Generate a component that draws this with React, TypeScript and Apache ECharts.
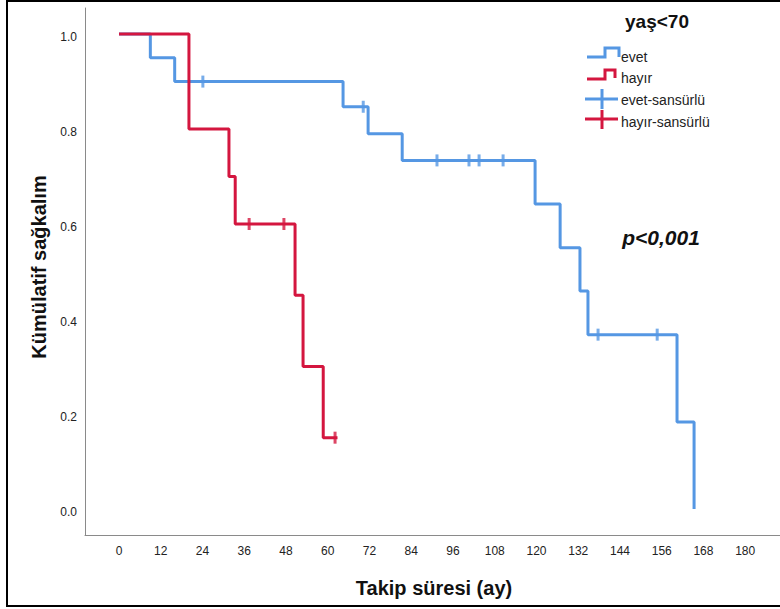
import React, { useEffect, useRef } from "react";
import * as echarts from "echarts";

// Kaplan-Meier step points [months, survival]
const evetSteps: [number, number][] = [
  [0, 1.0], [9, 0.95], [16, 0.9], [64.4, 0.847], [71.6, 0.79], [81.4, 0.734],
  [119.6, 0.642], [126.8, 0.55], [132.5, 0.459], [134.8, 0.367], [160.4, 0.183], [165.3, 0.0],
];
const hayirSteps: [number, number][] = [
  [0, 1.0], [20.1, 0.8], [31.6, 0.7], [33.4, 0.6], [50.6, 0.45], [52.9, 0.3], [58.7, 0.15], [62.8, 0.15],
];
const evetCensored: [number, number][] = [
  [24.1, 0.9], [70.2, 0.847], [91.4, 0.734], [100.6, 0.734], [103.5, 0.734], [110.4, 0.734],
  [137.7, 0.367], [154.7, 0.367],
];
const hayirCensored: [number, number][] = [
  [37.4, 0.6], [47.4, 0.6], [62.1, 0.15],
];
const xTicks = [0, 12, 24, 36, 48, 60, 72, 84, 96, 108, 120, 132, 144, 156, 168, 180];
const yTicks = [0, 0.2, 0.4, 0.6, 0.8, 1.0];
const legendTitle = "yaş<70";
const legendNames = ["evet", "hayır", "evet-sansürlü", "hayır-sansürlü"];
const pText = "p<0,001";
const xTitle = "Takip süresi (ay)";
const yTitle = "Kümülatif sağkalım";

const BLUE = "#5597e3";
const RED = "#d4163f";

export default function App() {
  const ref = useRef<HTMLDivElement>(null);
  useEffect(() => {
    if (!ref.current) return;
    const chart = echarts.init(ref.current, undefined, { renderer: "svg" });
    const font = "Liberation Sans, Arial, sans-serif";
    chart.setOption({
      animation: false,
      backgroundColor: "#ffffff",
      grid: { left: 85, top: 8, right: 0, bottom: 74, containLabel: false },
      xAxis: {
        type: "value",
        min: -9.78,
        max: 190,
        axisLine: { show: true, onZero: false, lineStyle: { color: "#8a8a8a", width: 1 } },
        axisTick: { show: false },
        splitLine: { show: false },
        axisLabel: {
          customValues: xTicks,
          margin: 10,
          fontSize: 12,
          fontFamily: font,
          color: "#222",
        },
      },
      yAxis: {
        type: "value",
        min: -0.055,
        max: 1.055,
        axisLine: { show: true, onZero: false, lineStyle: { color: "#8a8a8a", width: 1 } },
        axisTick: { show: false },
        splitLine: { show: false },
        axisLabel: {
          customValues: yTicks,
          margin: 8,
          fontSize: 12,
          fontFamily: font,
          color: "#222",
          verticalAlign: "top",
          lineHeight: 6,
          formatter: (v: number) => v.toFixed(1),
        },
      },
      series: [
        {
          name: legendNames[0],
          type: "line",
          step: "end",
          data: evetSteps,
          showSymbol: false,
          symbol: "none",
          lineStyle: { color: BLUE, width: 3 },
          z: 2,
        },
        {
          name: legendNames[1],
          type: "line",
          step: "end",
          data: hayirSteps,
          showSymbol: false,
          symbol: "none",
          lineStyle: { color: RED, width: 3 },
          z: 3,
        },
        {
          name: legendNames[2],
          type: "scatter",
          data: evetCensored,
          symbol: "rect",
          symbolSize: [3, 12],
          itemStyle: { color: BLUE },
          z: 4,
        },
        {
          name: legendNames[3],
          type: "scatter",
          data: hayirCensored,
          symbol: "rect",
          symbolSize: [3, 12],
          itemStyle: { color: RED },
          z: 5,
        },
      ],
      graphic: [
        {
          type: "rect",
          shape: { x: 7, y: 1, width: 800, height: 605 },
          style: { fill: "none", stroke: "#000", lineWidth: 2 },
          silent: true,
        },
        {
          type: "text",
          x: 657,
          y: 21,
          style: { text: legendTitle, font: `bold 19px ${font}`, fill: "#111", textAlign: "center", textVerticalAlign: "middle" },
        },
        {
          type: "polyline",
          shape: { points: [[587, 57], [605, 57], [605, 48], [619, 48], [619, 57]] },
          style: { stroke: BLUE, lineWidth: 3, fill: "none" },
        },
        {
          type: "polyline",
          shape: { points: [[587, 79], [605, 79], [605, 70], [615, 70], [615, 78]] },
          style: { stroke: RED, lineWidth: 3, fill: "none" },
        },
        { type: "line", shape: { x1: 585, y1: 99, x2: 618, y2: 99 }, style: { stroke: BLUE, lineWidth: 3 } },
        { type: "line", shape: { x1: 602, y1: 89, x2: 602, y2: 109 }, style: { stroke: BLUE, lineWidth: 3 } },
        { type: "line", shape: { x1: 585, y1: 119, x2: 618, y2: 119 }, style: { stroke: RED, lineWidth: 3 } },
        { type: "line", shape: { x1: 602, y1: 110, x2: 602, y2: 129 }, style: { stroke: RED, lineWidth: 3 } },
        ...legendNames.map((n, i) => ({
          type: "text",
          x: 621,
          y: [57, 78, 100, 122][i],
          style: { text: n, font: `14px ${font}`, fill: "#222", textAlign: "left", textVerticalAlign: "middle" },
        })),
        {
          type: "text",
          x: 661,
          y: 237,
          style: { text: pText, font: `italic bold 21px ${font}`, fill: "#111", textAlign: "center", textVerticalAlign: "middle" },
        },
        {
          type: "text",
          x: 434,
          y: 588,
          style: { text: xTitle, font: `bold 20px ${font}`, fill: "#111", textAlign: "center", textVerticalAlign: "middle" },
        },
        {
          type: "text",
          x: 39,
          y: 267,
          rotation: Math.PI / 2,
          style: { text: yTitle, font: `bold 20px ${font}`, fill: "#111", textAlign: "center", textVerticalAlign: "middle" },
        },
      ],
    });
    return () => chart.dispose();
  }, []);
  return (
    <div
      ref={ref}
      style={{ position: "fixed", left: 0, top: 0, width: 780, height: 609, background: "#fff" }}
    />
  );
}
